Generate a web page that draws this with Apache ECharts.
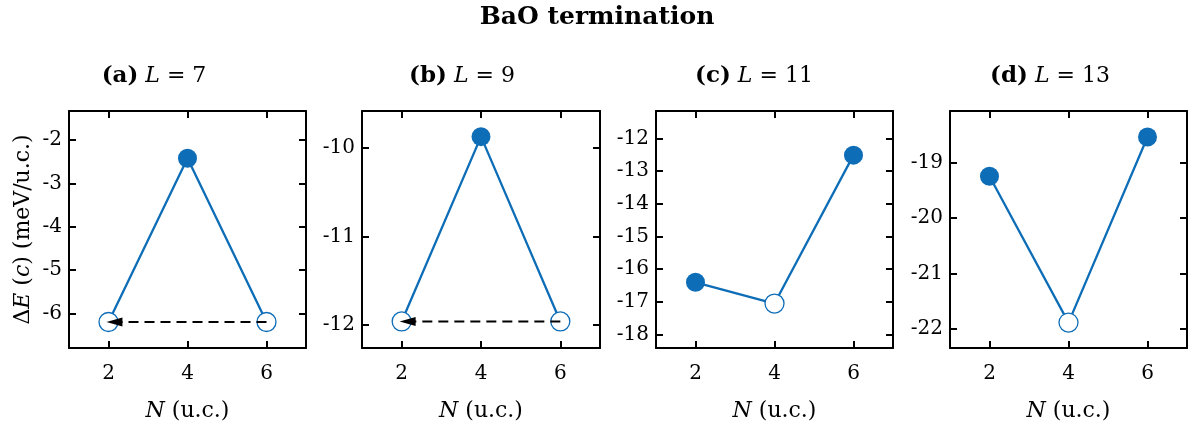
<!DOCTYPE html>
<html>
<head>
<meta charset="utf-8">
<script src="https://cdn.jsdelivr.net/npm/echarts@6/dist/echarts.min.js"></script>
<style>
html,body{margin:0;padding:0;background:#fff;}
#chart{width:1191px;height:432px;}
</style>
</head>
<body>
<div id="chart"></div>
<script>
// ---- data ----
const nValues = [2, 4, 6];
const nTicks = [2, 4, 6];
const panelLetters = ['(a)', '(b)', '(c)', '(d)'];
const panelL = [7, 9, 11, 13];
const energyA = [-6.2, -2.42, -6.2];
const energyB = [-11.96, -9.87, -11.96];
const energyC = [-16.4, -17.05, -12.51];
const energyD = [-19.24, -21.89, -18.53];
const filledA = [false, true, false];
const filledB = [false, true, false];
const filledC = [true, false, true];
const filledD = [true, false, true];
const yTicksA = [-6, -5, -4, -3, -2];
const yTicksB = [-12, -11, -10];
const yTicksC = [-18, -17, -16, -15, -14, -13, -12];
const yTicksD = [-22, -21, -20, -19];
const yRangeA = [-6.8, -1.33];
const yRangeB = [-12.26, -9.58];
const yRangeC = [-18.41, -11.16];
const yRangeD = [-22.35, -18.06];
const arrowFromN = [6, 6, null, null];
const arrowToN = [2.15, 2.15, null, null];
const arrowLevel = [-6.2, -11.96, null, null];
const xRange = [1, 7];
const mainTitle = 'BaO termination';

// ---- layout / style ----
const FONT = 'DejaVu Serif';
const BLUE = '#0E6DB7';
const gridLefts = [69, 362, 656, 950];
const gridWidths = [237, 238, 237, 237];
const gridTop = 111, gridHeight = 237;
const titleCenters = [154, 462, 754, 1050];

const energies = [energyA, energyB, energyC, energyD];
const filled = [filledA, filledB, filledC, filledD];
const yTicks = [yTicksA, yTicksB, yTicksC, yTicksD];
const yRanges = [yRangeA, yRangeB, yRangeC, yRangeD];

const grids = [], xAxes = [], yAxes = [], series = [], graphics = [];
const axisLineStyle = {show: true, onZero: false, lineStyle: {color: '#000', width: 2}};
const tickStyle = {show: true, inside: true, length: 7, lineStyle: {color: '#000', width: 2}};
const labelStyle = {color: '#000', fontFamily: FONT, fontSize: 20};
const NAME_SIZE = 22;
const TSIZE = 22;

for (let p = 0; p < 4; p++) {
  grids.push({left: gridLefts[p], top: gridTop, width: gridWidths[p], height: gridHeight, containLabel: false});
  xAxes.push({
    gridIndex: p, type: 'value', min: xRange[0], max: xRange[1], position: 'bottom',
    axisLine: axisLineStyle,
    axisTick: Object.assign({}, tickStyle, {customValues: nTicks}),
    axisLabel: Object.assign({}, labelStyle, {margin: 16, customValues: nTicks}),
    splitLine: {show: false},
    name: '{i|N} {n|(u.c.)}', nameLocation: 'middle', nameGap: 52,
    nameTextStyle: {fontFamily: FONT, fontSize: NAME_SIZE, color: '#000',
      rich: {i: {fontFamily: FONT, fontSize: NAME_SIZE, fontStyle: 'italic', color: '#000'},
             n: {fontFamily: FONT, fontSize: NAME_SIZE, color: '#000'}}}
  });
  xAxes.push({
    gridIndex: p, type: 'value', min: xRange[0], max: xRange[1], position: 'top',
    axisLine: axisLineStyle,
    axisTick: Object.assign({}, tickStyle, {customValues: nTicks}),
    axisLabel: {show: false}, splitLine: {show: false}
  });
  const yAx = {
    gridIndex: p, type: 'value', min: yRanges[p][0], max: yRanges[p][1], position: 'left',
    axisLine: axisLineStyle,
    axisTick: Object.assign({}, tickStyle, {customValues: yTicks[p]}),
    axisLabel: Object.assign({}, labelStyle, {margin: 7, customValues: yTicks[p]}),
    splitLine: {show: false}
  };
  if (p === 0) {
    yAx.name = 'Δ{i|E} ({i|c}) (meV/u.c.)';
    yAx.nameLocation = 'middle';
    yAx.nameGap = 35;
    yAx.nameRotate = 90;
    yAx.nameTextStyle = {fontFamily: FONT, fontSize: NAME_SIZE, color: '#000',
      rich: {i: {fontFamily: FONT, fontSize: NAME_SIZE, fontStyle: 'italic', color: '#000'}}};
  }
  yAxes.push(yAx);
  yAxes.push({
    gridIndex: p, type: 'value', min: yRanges[p][0], max: yRanges[p][1], position: 'right',
    axisLine: axisLineStyle,
    axisTick: Object.assign({}, tickStyle, {customValues: yTicks[p]}),
    axisLabel: {show: false}, splitLine: {show: false}
  });

  const pts = nValues.map((n, i) => ({
    value: [n, energies[p][i]],
    itemStyle: filled[p][i]
      ? {color: BLUE, borderColor: BLUE, borderWidth: 0}
      : {color: '#fff', borderColor: BLUE, borderWidth: 1.3}
  }));
  series.push({
    type: 'line', xAxisIndex: 2 * p, yAxisIndex: 2 * p, data: pts,
    symbol: 'circle', symbolSize: 19, showSymbol: true,
    lineStyle: {color: BLUE, width: 2.3}, itemStyle: {color: BLUE},
    animation: false, silent: true, z: 2
  });
  if (arrowLevel[p] !== null) {
    series.push({
      type: 'line', xAxisIndex: 2 * p, yAxisIndex: 2 * p,
      data: [
        {value: [arrowFromN[p], arrowLevel[p]], symbol: 'none'},
        {value: [arrowToN[p], arrowLevel[p]], symbol: 'triangle', symbolSize: [9, 16], symbolRotate: 90}
      ],
      showSymbol: true, itemStyle: {color: '#000'},
      lineStyle: {color: '#000', width: 2, type: [10, 6]},
      animation: false, silent: true, z: 10
    });
  }
  graphics.push({
    type: 'text', x: titleCenters[p], y: 76,
    style: {
      text: '{b|' + panelLetters[p] + '}{i|L}{e|=}{n|' + panelL[p] + '}',
      textAlign: 'center', textVerticalAlign: 'middle',
      rich: {
        b: {fontFamily: FONT, fontSize: 23, fontWeight: 'bold', fill: '#000'},
        i: {fontFamily: FONT, fontSize: TSIZE, fontStyle: 'italic', fill: '#000', padding: [0, 0, 0, 7]},
        e: {fontFamily: FONT, fontSize: TSIZE, fill: '#000', padding: [0, 7, 0, 7]},
        n: {fontFamily: FONT, fontSize: TSIZE, fill: '#000'}
      }
    }
  });
}
graphics.push({
  type: 'text', x: 597, y: 17,
  style: {text: mainTitle, textAlign: 'center', textVerticalAlign: 'middle',
    font: 'bold 25px "' + FONT + '"', fill: '#000'}
});

const chart = echarts.init(document.getElementById('chart'), null, {renderer: 'canvas'});
chart.setOption({
  animation: false,
  backgroundColor: '#fff',
  grid: grids, xAxis: xAxes, yAxis: yAxes, series: series, graphic: graphics
});
</script>
</body>
</html>
